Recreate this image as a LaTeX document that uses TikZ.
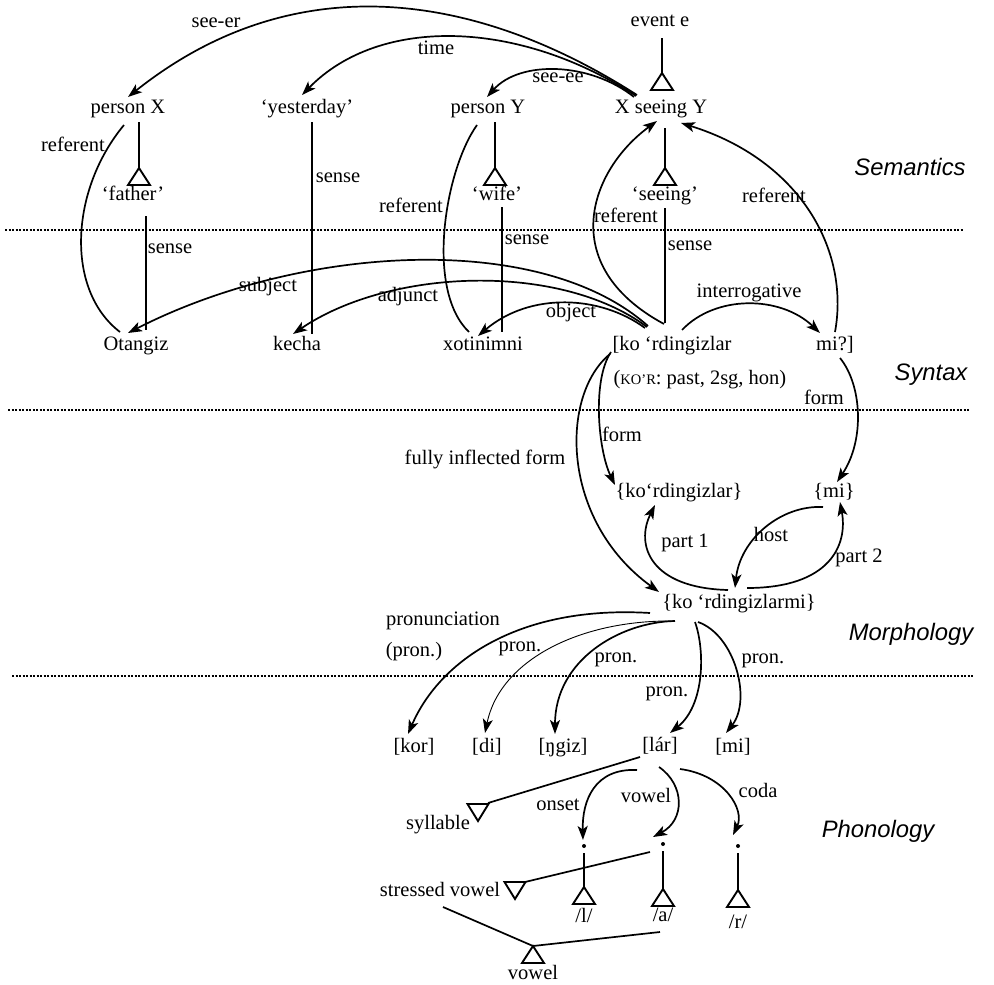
\documentclass[tikz,border=0pt]{standalone}
\usepackage{fontspec}
\setmainfont{Liberation Serif}
\newfontfamily\regionfont{Liberation Sans}
\usetikzlibrary{arrows.meta}
\tikzset{
  uptri/.pic={\draw[line width=1.9pt, line join=miter] (0,0) -- (-11,-17) -- (11,-17) -- cycle;},
  downtri/.pic={\draw[line width=1.9pt, line join=miter] (0,0) -- (-10.5,17) -- (10.5,17) -- cycle;}
}
\begin{document}
\begin{tikzpicture}[x=1pt,y=1pt,
  txt/.style={inner sep=0pt, font=\fontsize{20.5}{24}\selectfont, text height=14pt, text depth=4.5pt},
  region/.style={inner sep=0pt, font=\regionfont\itshape\fontsize{23.8}{28}\selectfont, text height=17pt, text depth=5pt},
  arc/.style={line width=1.7pt, -{Stealth[length=14pt,width=10pt,inset=3.5pt]}},
  thinarc/.style={line width=0.9pt, -{Stealth[length=14pt,width=10pt,inset=3.5pt]}},
  plain/.style={line width=1.7pt},
  thickl/.style={line width=2.2pt},
  sep/.style={line width=2.6pt, dash pattern=on 2pt off 1.5pt},
  dotn/.style={circle, fill, inner sep=0pt, minimum size=4pt}
]
\useasboundingbox (0,0) rectangle (994,-985);

% separators
\draw[sep] (5,-230) -- (963,-230);
\draw[sep] (8,-410) -- (970,-410);
\draw[sep] (12,-676) -- (973,-676);

% region labels
\node[region] (lsem) at (910,-169) {Semantics};
\node[region] (lsyn) at (931,-374) {Syntax};
\node[region] (lmor) at (911,-634) {Morphology};
\node[region] (lpho) at (878,-831) {Phonology};

% semantics nodes
\node[txt] (evente) at (660,-22) {event e};
\node[txt] (xsee) at (661,-109) {X seeing Y};
\node[txt] (personx) at (128,-109) {person X};
\node[txt] (yest) at (307,-109) {‘yesterday’};
\node[txt] (persony) at (488,-109) {person Y};
\node[txt] (father) at (133,-196) {‘father’};
\node[txt] (wife) at (497,-196) {‘wife’};
\node[txt] (seeing) at (665,-196) {‘seeing’};

% syntax nodes
\node[txt] (otangiz) at (136,-346) {Otangiz};
\node[txt] (kecha) at (297,-346) {kecha};
\node[txt] (xotin) at (483,-346) {xotinimni};
\node[txt] (kord) at (672,-346) {[ko ‘rdingizlar};
\node[txt] (mi) at (835,-346) {mi?]};
\node[txt] (korinfo) at (700,-380) {({\fontsize{14.5}{16}\selectfont KO’R}: past, 2sg, hon)};

% morphology nodes
\node[txt] (mkord) at (679,-493) {\{ko‘rdingizlar\}};
\node[txt] (mmi) at (834,-493) {\{mi\}};
\node[txt] (mfull) at (739,-604) {\{ko ‘rdingizlarmi\}};

% phonology nodes
\node[txt] (kor) at (414,-748) {[kor]};
\node[txt] (di) at (487,-748) {[di]};
\node[txt] (ngiz) at (563,-748) {[ŋgiz]};
\node[txt] (lar) at (660,-747) {[lár]};
\node[txt] (pmi) at (733,-748) {[mi]};
\node[txt] (syllable) at (438,-825) {syllable};
\node[txt] (stressed) at (440,-892) {stressed vowel};
\node[txt] (phl) at (584,-918) {/l/};
\node[txt] (pha) at (663,-917) {/a/};
\node[txt] (phr) at (738,-924) {/r/};
\node[txt] (vowel) at (533,-975) {vowel};
\node[dotn] (dl) at (584,-846) {};
\node[dotn] (da) at (663,-844) {};
\node[dotn] (dr) at (738,-846) {};

% isa lines and triangles (semantics)
\draw[thickl] ([shift={(2,-16)}]evente.center) -- ++(0,-35);
\pic at (662,-73) {uptri};
\draw[thickl] ([shift={(11,-13)}]personx.center) -- ++(0,-46);
\pic at (139,-168) {uptri};
\draw[thickl] ([shift={(7,-13)}]persony.center) -- ++(0,-46);
\pic at (495,-168) {uptri};
\draw[thickl] ([shift={(4,-19)}]xsee.center) -- ++(0,-40);
\pic at (665,-168) {uptri};

% sense lines
\draw[thickl] ([shift={(5,-13)}]yest.center) -- ([shift={(15,12)}]kecha.center);
\draw[thickl] ([shift={(13,-20)}]father.center) -- ([shift={(10,16)}]otangiz.center);
\draw[thickl] ([shift={(5,-11)}]wife.center) -- ([shift={(19,14)}]xotin.center);
\draw[thickl] ([shift={(0,-12)}]seeing.center) -- ([shift={(-7,23)}]kord.center);

% semantic arcs
\draw[arc] ([shift={(-24,14)}]xsee.center) .. controls (470,12) and (290,32) .. ([shift={(0,12)}]personx.center);
\draw[arc] ([shift={(-25,13)}]xsee.center) .. controls (520,-20) and (380,-15) .. ([shift={(-5,14)}]yest.center);
\draw[arc] ([shift={(-27,12)}]xsee.center) .. controls (590,-62) and (520,-60) .. ([shift={(-1,12)}]persony.center);

% referent curves
\draw[plain] ([shift={(-4,-16)}]personx.center) .. controls (70,-190) and (65,-290) .. ([shift={(-16,14)}]otangiz.center);
\draw[plain] ([shift={(-11,-16)}]persony.center) .. controls (445,-170) and (425,-290) .. ([shift={(-14,14)}]xotin.center);
\draw[arc] ([shift={(-8,22)}]kord.center) .. controls (555,-265) and (590,-170) .. ([shift={(-4,-12)}]xsee.center);
\draw[arc] ([shift={(0,14)}]mi.center) .. controls (850,-250) and (800,-160) .. ([shift={(20,-14)}]xsee.center);

% syntax arcs
\draw[arc] ([shift={(-24,20)}]kord.center) .. controls (540,-230) and (300,-245) .. ([shift={(-8,13)}]otangiz.center);
\draw[arc] ([shift={(-25,19)}]kord.center) .. controls (560,-262) and (390,-268) .. ([shift={(-4,12)}]kecha.center);
\draw[arc] ([shift={(-27,18)}]kord.center) .. controls (600,-295) and (530,-292) .. ([shift={(-5,10)}]xotin.center);
\draw[arc] ([shift={(10,16)}]kord.center) .. controls (715,-295) and (780,-295) .. ([shift={(-15,13)}]mi.center);

% syntax -> morphology
\draw[arc] ([shift={(5,-12)}]mi.center) .. controls (862,-385) and (865,-440) .. ([shift={(3,11)}]mmi.center);
\draw[arc] ([shift={(-61,-6)}]kord.center) .. controls (592,-380) and (598,-450) .. ([shift={(-64,8)}]mkord.center);
\draw[arc] ([shift={(-62,-8)}]kord.center) .. controls (560,-395) and (560,-520) .. ([shift={(-80,12)}]mfull.center);

% morphology arcs
\draw[arc] ([shift={(-11,14)}]mfull.center) .. controls (650,-588) and (635,-545) .. ([shift={(-24,-12)}]mkord.center);
\draw[arc] ([shift={(8,16)}]mfull.center) .. controls (830,-588) and (848,-545) .. ([shift={(6,-9)}]mmi.center);
\draw[arc] ([shift={(-11,-14)}]mmi.center) .. controls (780,-505) and (740,-540) .. ([shift={(-4,16)}]mfull.center);

% pronunciation arcs
\draw[arc] ([shift={(-89,-9)}]mfull.center) .. controls (520,-605) and (440,-660) .. ([shift={(-6,14)}]kor.center);
\draw[thinarc] ([shift={(-66,-17)}]mfull.center) .. controls (580,-620) and (500,-660) .. ([shift={(-2,15)}]di.center);
\draw[arc] ([shift={(-64,-17)}]mfull.center) .. controls (620,-622) and (555,-660) .. ([shift={(-8,14)}]ngiz.center);
\draw[arc] ([shift={(-44,-18)}]mfull.center) .. controls (705,-650) and (705,-705) .. ([shift={(10,14)}]lar.center);
\draw[arc] ([shift={(-41,-18)}]mfull.center) .. controls (735,-635) and (752,-700) .. ([shift={(-7,15)}]pmi.center);

% syllable structure
\draw[plain] ([shift={(-20,-10)}]lar.center) -- ([shift={(50,22)}]syllable.center);
\pic at (478,-821) {downtri};
\draw[arc] ([shift={(-23,-23)}]lar.center) .. controls (595,-768) and (582,-800) .. ([shift={(-1,6)}]dl.center);
\draw[arc] ([shift={(-1,-20)}]lar.center) .. controls (685,-785) and (685,-820) .. ([shift={(-10,7)}]da.center);
\draw[arc] ([shift={(20,-22)}]lar.center) .. controls (725,-775) and (745,-810) .. ([shift={(-5,11)}]dr.center);

\draw[thickl] ([shift={(0,-7)}]dl.center) -- ++(0,-34);
\pic at (584,-887) {uptri};
\draw[thickl] ([shift={(0,-7)}]da.center) -- ++(0,-38);
\pic at (663,-889) {uptri};
\draw[thickl] ([shift={(0,-7)}]dr.center) -- ++(0,-37);
\pic at (738,-890) {uptri};

\draw[plain] ([shift={(85,10)}]stressed.center) -- ([shift={(-13,-8)}]da.center);
\pic at (515,-899) {downtri};

\draw[plain] ([shift={(3,-15)}]stressed.center) -- ([shift={(0,29)}]vowel.center) -- ([shift={(-3,-15)}]pha.center);
\pic at (533,-946) {uptri};

% edge labels
\node[txt] (l1) at (216,-23) {see-er};
\node[txt] (l2) at (436,-50) {time};
\node[txt] (l3) at (558,-78) {see-ee};
\node[txt] (l4) at (73,-147) {referent};
\node[txt] (l5) at (338,-178) {sense};
\node[txt] (l6) at (411,-208) {referent};
\node[txt] (l7) at (170,-249) {sense};
\node[txt] (l8) at (527,-240) {sense};
\node[txt] (l9) at (626,-218) {referent};
\node[txt] (l10) at (690,-246) {sense};
\node[txt] (l11) at (774,-198) {referent};
\node[txt] (l12) at (268,-287) {subject};
\node[txt] (l13) at (408,-297) {adjunct};
\node[txt] (l14) at (571,-313) {object};
\node[txt] (l15) at (749,-293) {interrogative};
\node[txt] (l16) at (824,-400) {form};
\node[txt] (l17) at (622,-437) {form};
\node[txt] (l18) at (485,-460) {fully inflected form};
\node[txt] (l19) at (685,-543) {part 1};
\node[txt] (l20) at (771,-537) {host};
\node[txt] (l21) at (859,-558) {part 2};
\node[txt] (l22) at (443,-621) {pronunciation};
\node[txt] (l23) at (414,-652) {(pron.)};
\node[txt] (l24) at (520,-647) {pron.};
\node[txt] (l25) at (616,-658) {pron.};
\node[txt] (l26) at (667,-692) {pron.};
\node[txt] (l27) at (763,-659) {pron.};
\node[txt] (l28) at (558,-806) {onset};
\node[txt] (l29) at (646,-798) {vowel};
\node[txt] (l30) at (758,-793) {coda};
\end{tikzpicture}
\end{document}
